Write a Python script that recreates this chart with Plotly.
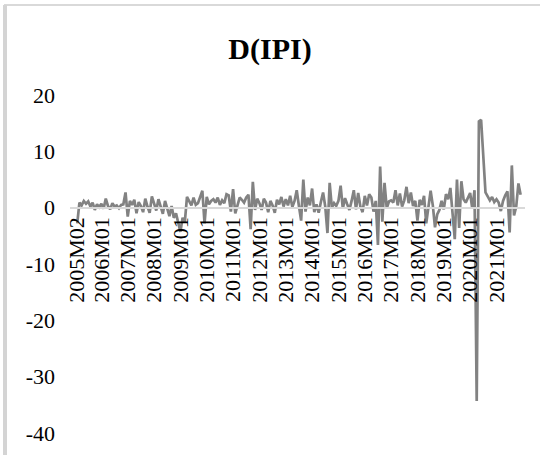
import plotly.graph_objects as go

# Monthly D(IPI) values, 2005M02 .. 2021M12
v2005 = [-2.8, 0.9, 0.4, 1.2, 0.7, 1.1, 0.2, 0.9, -0.4, 0.6, 0.1]
v2006 = [0.7, -0.2, 1.6, 0.3, -0.3, 0.8, 0.2, 0.4, -0.1, 0.5, 0.6, 2.7]
v2007 = [-1.6, 1.2, 0.5, 1.4, -1.0, 1.0, 0.3, -0.8, 1.6, 0.2, -0.9, 2.0]
v2008 = [0.6, -0.5, 1.5, 0.1, -1.1, 1.2, -0.2, -1.5, 0.3, -1.8, -1.0, -3.0]
v2009 = [-4.3, -1.8, -2.6, 1.9, 1.2, 0.4, 1.8, 0.5, 0.8, 2.0, 3.0, -2.8]
v2010 = [1.9, 0.6, 1.2, 1.5, 0.9, 1.8, 0.5, 1.3, 0.8, 2.4, 2.2, -0.7]
v2011 = [3.3, -1.0, 0.6, 1.8, 1.4, 0.9, 1.8, 2.3, -3.8, 4.6, -0.4, 1.6]
v2012 = [0.8, -0.4, 1.6, 0.9, -0.8, 1.2, 0.4, -0.9, 1.4, 0.6, 1.9, 0.2]
v2013 = [1.5, 0.4, 2.1, 0.1, 1.2, 3.1, 0.3, -2.3, 5.0, -0.7, 1.8, 0.4]
v2014 = [3.4, -0.8, 0.6, -0.9, 1.0, 2.7, 0.2, -4.5, 4.4, 0.0, 0.8, 0.3]
v2015 = [1.2, 3.9, -0.2, 1.7, 0.6, -0.4, 1.2, 3.1, -0.3, 2.6, 0.2, -0.8]
v2016 = [2.1, 0.4, 2.4, 1.8, -0.7, 1.2, -6.6, 7.3, -2.5, 4.4, -0.1, 1.1]
v2017 = [1.3, 0.9, 3.1, 0.4, 2.5, 0.2, 1.3, 3.7, 0.8, 2.7, 0.3, 1.2]
v2018 = [-2.3, 1.4, 0.5, 2.1, -2.8, 0.6, 3.0, 0.4, -3.5, -1.2, -0.4, 1.2]
v2019 = [-0.3, 2.4, 1.5, 3.5, -1.0, -5.6, 5.0, -3.6, 4.7, 1.5, 0.9, 1.8]
v2020 = [2.6, -0.2, 3.1, -34.3, 15.3, 15.6, 9.0, 2.7, 2.0, 1.3, 1.9, 1.0]
v2021 = [1.5, 0.9, -0.6, 1.2, 2.2, 2.9, -4.4, 7.5, -1.4, 0.2, 4.3, 2.3]

yearly = [v2005, v2006, v2007, v2008, v2009, v2010, v2011, v2012, v2013,
          v2014, v2015, v2016, v2017, v2018, v2019, v2020, v2021]
values = [v for year in yearly for v in year]

months = [f"{y}M{m:02d}" for y in range(2005, 2022) for m in range(1, 13)][1:]

tick_labels = ["2005M02", "2006M01", "2007M01", "2008M01", "2009M01", "2010M01",
               "2011M01", "2012M01", "2013M01", "2014M01", "2015M01", "2016M01",
               "2017M01", "2018M01", "2019M01", "2020M01", "2021M01"]
y_ticks = [-40, -30, -20, -10, 0, 10, 20]
y_tick_text = ["-40", "-30", "-20", "-10", "0", "10", "20"]

FONT = "Liberation Serif, Times New Roman, serif"

W, H = 540, 455
ml, mr, mt, mb = 70, 15, 95, 22.4
plot_h = H - mt - mb
plot_w = W - ml - mr
zero_pos = (0 - (-40)) / 60.0

fig = go.Figure()
fig.add_trace(go.Scatter(
    x=list(range(len(values))), y=values, mode="lines",
    line=dict(color="#828282", width=2.7), hoverinfo="skip"))

tickvals = [months.index(t) for t in tick_labels]

fig.update_layout(
    width=W, height=H,
    margin=dict(l=ml, r=mr, t=mt, b=mb, pad=0),
    paper_bgcolor="white", plot_bgcolor="white",
    showlegend=False,
    title=dict(text="<b>D(IPI)</b>", x=0.5, xanchor="center",
               y=1 - 48 / H, yanchor="middle", yref="container",
               font=dict(family=FONT, size=30, color="black")),
    xaxis=dict(range=[-3.3, 204], tickmode="array", tickvals=tickvals,
               ticktext=tick_labels, tickangle=-90,
               tickfont=dict(family=FONT, size=22, color="black"),
               showgrid=False, zeroline=False, showline=True,
               linecolor="#d9d9d9", linewidth=1.5, ticks="",
               anchor="free", position=zero_pos, automargin=False),
    yaxis=dict(range=[-40, 20], tickmode="array", tickvals=y_ticks,
               ticktext=y_tick_text,
               tickfont=dict(family=FONT, size=22, color="black"),
               showgrid=False, zeroline=False, showline=False,
               ticks="", ticklabelstandoff=14, automargin=False),
)

# chart border (top and left edges visible in the crop)
fig.add_shape(type="line", xref="paper", yref="paper",
              x0=(4 - ml) / plot_w, x1=(W + 5 - ml) / plot_w,
              y0=(H - mb - 5) / plot_h, y1=(H - mb - 5) / plot_h,
              line=dict(color="#d9d9d9", width=2))
fig.add_shape(type="line", xref="paper", yref="paper",
              x0=(5 - ml) / plot_w, x1=(5 - ml) / plot_w,
              y0=(H - mb - 5) / plot_h, y1=(H - mb - H - 10) / plot_h,
              line=dict(color="#d4d4d4", width=4))

fig.write_html("out.html")
